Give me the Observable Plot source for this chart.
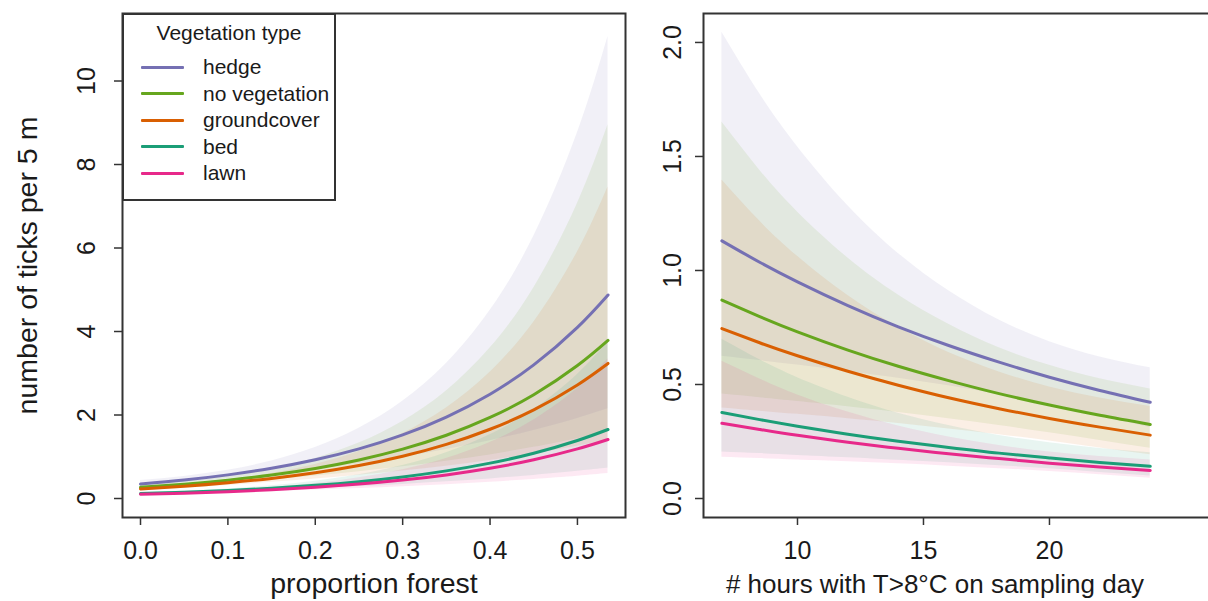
<!DOCTYPE html>
<html>
<head>
<meta charset="utf-8">
<script src="https://cdn.jsdelivr.net/npm/d3@7"></script>
<script src="https://cdn.jsdelivr.net/npm/@observablehq/plot@0.6"></script>
<style>
  html, body { margin: 0; padding: 0; background: #fff; overflow: hidden; }
  #wrap { position: relative; width: 1208px; height: 601px; overflow: hidden; font-family: "Liberation Sans", Arial, sans-serif; color: #1a1a1a; }
  #left { position: absolute; left: 0; top: 0; width: 640px; height: 601px; }
  #right { position: absolute; left: 640px; top: 0; width: 568px; height: 601px; overflow: hidden; }
  #legend { position: absolute; left: 122px; top: 13px; width: 214px; height: 188px; box-sizing: border-box; border: 2px solid #333; background: #fff; }
  #legend .title { position: absolute; left: 0; width: 100%; top: 17px; text-align: center; font-size: 21px; line-height: 1; transform: translateY(-50%); }
  #legend .row { position: absolute; left: 0; width: 100%; height: 0; }
  #legend .sw { position: absolute; left: 17px; width: 43px; height: 3px; top: -1.5px; border-radius: 1px; }
  #legend .lab { position: absolute; left: 79px; top: 0; font-size: 21px; line-height: 1; transform: translateY(-52%); white-space: nowrap; }
</style>
</head>
<body>
<div id="wrap">
  <div id="left"></div>
  <div id="right"></div>
  <div id="legend"></div>
</div>
<script>
// ---------- categories & colours ----------
const types = ["hedge", "no vegetation", "groundcover", "bed", "lawn"];
const colors = ["#7570B3", "#66A61E", "#D95F02", "#1B9E77", "#E7298A"];

// ---------- left panel: proportion forest ----------
const forestX = [0, 0.05, 0.1, 0.15, 0.2, 0.25, 0.3, 0.35, 0.4, 0.45, 0.5, 0.535];
const hedgeForest   = [0.345, 0.442, 0.566, 0.725, 0.928, 1.189, 1.523, 1.951, 2.499, 3.200, 4.099, 4.875];
const hedgeForestLo = [0.276, 0.369, 0.474, 0.586, 0.706, 0.841, 0.996, 1.176, 1.386, 1.631, 1.918, 2.148];
const hedgeForestHi = [0.431, 0.530, 0.675, 0.897, 1.220, 1.680, 2.328, 3.236, 4.505, 6.279, 8.760, 11.064];
const novegForest   = [0.268, 0.343, 0.440, 0.563, 0.721, 0.924, 1.183, 1.515, 1.941, 2.486, 3.184, 3.787];
const novegForestLo = [0.212, 0.284, 0.366, 0.450, 0.541, 0.643, 0.758, 0.891, 1.045, 1.225, 1.434, 1.602];
const novegForestHi = [0.339, 0.415, 0.530, 0.704, 0.961, 1.329, 1.847, 2.577, 3.604, 5.045, 7.068, 8.954];
const groundForest   = [0.229, 0.293, 0.376, 0.481, 0.616, 0.789, 1.011, 1.295, 1.659, 2.124, 2.721, 3.235];
const groundForestLo = [0.182, 0.244, 0.314, 0.387, 0.466, 0.555, 0.656, 0.773, 0.909, 1.068, 1.254, 1.402];
const groundForestHi = [0.288, 0.352, 0.450, 0.597, 0.814, 1.123, 1.559, 2.170, 3.026, 4.224, 5.904, 7.464];
const bedForest   = [0.117, 0.150, 0.192, 0.246, 0.315, 0.403, 0.517, 0.662, 0.847, 1.085, 1.390, 1.653];
const bedForestLo = [0.094, 0.125, 0.161, 0.199, 0.240, 0.285, 0.338, 0.399, 0.470, 0.553, 0.650, 0.728];
const bedForestHi = [0.146, 0.180, 0.229, 0.304, 0.414, 0.569, 0.790, 1.098, 1.527, 2.129, 2.971, 3.752];
const lawnForest   = [0.100, 0.128, 0.164, 0.210, 0.269, 0.345, 0.442, 0.565, 0.724, 0.928, 1.188, 1.413];
const lawnForestLo = [0.079, 0.106, 0.136, 0.168, 0.202, 0.240, 0.283, 0.332, 0.390, 0.457, 0.535, 0.598];
const lawnForestHi = [0.126, 0.155, 0.197, 0.263, 0.358, 0.496, 0.690, 0.961, 1.344, 1.883, 2.637, 3.341];
const forestTicksX = [0, 0.1, 0.2, 0.3, 0.4, 0.5];
const forestTicksY = [0, 2, 4, 6, 8, 10];

// ---------- right panel: hours with T > 8 °C ----------
const hoursX = [7, 8.5, 10, 12, 14, 16, 18, 20, 22, 24];
const hedgeHours   = [1.130, 1.036, 0.950, 0.846, 0.753, 0.671, 0.598, 0.532, 0.474, 0.422];
const hedgeHoursLo = [0.624, 0.605, 0.585, 0.557, 0.527, 0.494, 0.456, 0.411, 0.362, 0.311];
const hedgeHoursHi = [2.045, 1.775, 1.543, 1.284, 1.075, 0.911, 0.783, 0.688, 0.621, 0.573];
const novegHours   = [0.870, 0.798, 0.731, 0.651, 0.580, 0.517, 0.460, 0.410, 0.365, 0.325];
const novegHoursLo = [0.458, 0.442, 0.425, 0.402, 0.377, 0.350, 0.320, 0.288, 0.254, 0.220];
const novegHoursHi = [1.651, 1.440, 1.257, 1.055, 0.893, 0.764, 0.661, 0.584, 0.525, 0.480];
const groundHours   = [0.745, 0.683, 0.626, 0.558, 0.497, 0.442, 0.394, 0.351, 0.313, 0.278];
const groundHoursLo = [0.397, 0.383, 0.369, 0.350, 0.329, 0.305, 0.280, 0.252, 0.222, 0.192];
const groundHoursHi = [1.397, 1.217, 1.062, 0.890, 0.751, 0.640, 0.555, 0.489, 0.441, 0.403];
const bedHours   = [0.377, 0.346, 0.317, 0.282, 0.251, 0.224, 0.199, 0.178, 0.158, 0.141];
const bedHoursLo = [0.204, 0.197, 0.189, 0.179, 0.168, 0.157, 0.144, 0.130, 0.114, 0.099];
const bedHoursHi = [0.698, 0.608, 0.530, 0.444, 0.374, 0.320, 0.276, 0.244, 0.219, 0.201];
const lawnHours   = [0.330, 0.303, 0.277, 0.247, 0.220, 0.196, 0.175, 0.155, 0.138, 0.123];
const lawnHoursLo = [0.181, 0.175, 0.169, 0.161, 0.152, 0.142, 0.131, 0.118, 0.104, 0.089];
const lawnHoursHi = [0.602, 0.524, 0.454, 0.379, 0.318, 0.270, 0.233, 0.204, 0.184, 0.169];
const hoursTicksX = [10, 15, 20];
const hoursTicksY = [0, 0.5, 1, 1.5, 2];

// ---------- labels ----------
const xLabelLeft = "proportion forest";
const yLabelLeft = "number of ticks per 5 m";
const xLabelRight = "# hours with T>8°C on sampling day";
const legendTitle = "Vegetation type";

// ---------- tidy tables ----------
function tidy(xs, series) {
  const rows = [];
  series.forEach(([type, m, lo, hi]) => {
    xs.forEach((x, i) => rows.push({type, x, mean: m[i], lo: lo[i], hi: hi[i]}));
  });
  return rows;
}
const forestData = tidy(forestX, [
  ["hedge", hedgeForest, hedgeForestLo, hedgeForestHi],
  ["no vegetation", novegForest, novegForestLo, novegForestHi],
  ["groundcover", groundForest, groundForestLo, groundForestHi],
  ["bed", bedForest, bedForestLo, bedForestHi],
  ["lawn", lawnForest, lawnForestLo, lawnForestHi]
]);
const hoursData = tidy(hoursX, [
  ["hedge", hedgeHours, hedgeHoursLo, hedgeHoursHi],
  ["no vegetation", novegHours, novegHoursLo, novegHoursHi],
  ["groundcover", groundHours, groundHoursLo, groundHoursHi],
  ["bed", bedHours, bedHoursLo, bedHoursHi],
  ["lawn", lawnHours, lawnHoursLo, lawnHoursHi]
]);

const FONT = "Liberation Sans, Arial, Helvetica, sans-serif";
const INK = "#1a1a1a";
const FRAME = "#333";

function commonMarks(data) {
  return [
    Plot.areaY(data, {x: "x", y1: "lo", y2: "hi", fill: "type", fillOpacity: 0.1, curve: "natural"}),
    Plot.lineY(data, {x: "x", y: "mean", stroke: "type", strokeWidth: 3, curve: "natural"}),
    Plot.frame({stroke: FRAME, strokeWidth: 2})
  ];
}

const left = Plot.plot({
  width: 640, height: 601,
  marginLeft: 122, marginRight: 15, marginTop: 13, marginBottom: 84,
  style: {fontFamily: FONT, fontSize: "25px", color: INK, background: "transparent", overflow: "visible"},
  x: {domain: [-0.0206, 0.555]},
  y: {domain: [-0.455, 11.617]},
  color: {domain: types, range: colors},
  marks: [
    ...commonMarks(forestData),
    Plot.axisX({ticks: forestTicksX, tickFormat: d3.format(".1f"), tickSize: 8, tickPadding: 16, stroke: FRAME, strokeWidth: 1.5, label: null, fontSize: 25, fill: INK}),
    Plot.axisY({ticks: forestTicksY, tickFormat: d3.format("d"), tickSize: 8, tickPadding: 20, tickRotate: -90, stroke: FRAME, strokeWidth: 1.5, label: null, fontSize: 25, fill: INK}),
    Plot.text([xLabelLeft], {frameAnchor: "bottom", dy: 75, fontSize: 28.5, fill: INK}),
    Plot.text([yLabelLeft], {frameAnchor: "left", textAnchor: "middle", dx: -95, rotate: -90, fontSize: 28.5, fill: INK})
  ]
});
document.getElementById("left").appendChild(left);

const right = Plot.plot({
  width: 568, height: 601,
  marginLeft: 63, marginRight: -4, marginTop: 13, marginBottom: 84,
  style: {fontFamily: FONT, fontSize: "25px", color: INK, background: "transparent", overflow: "hidden"},
  x: {domain: [6.27, 26.47]},
  y: {domain: [-0.0833, 2.127]},
  color: {domain: types, range: colors},
  marks: [
    ...commonMarks(hoursData),
    Plot.axisX({ticks: hoursTicksX, tickFormat: d3.format("d"), tickSize: 8, tickPadding: 16, stroke: FRAME, strokeWidth: 1.5, label: null, fontSize: 25, fill: INK}),
    Plot.axisY({ticks: hoursTicksY, tickFormat: d3.format(".1f"), tickSize: 8, tickPadding: 15, tickRotate: -90, stroke: FRAME, strokeWidth: 1.5, label: null, fontSize: 25, fill: INK}),
    Plot.text([xLabelRight], {frameAnchor: "bottom", dy: 75, dx: -23, fontSize: 26, fill: INK})
  ]
});
document.getElementById("right").appendChild(right);

// ---------- legend (HTML overlay) ----------
const leg = document.getElementById("legend");
const t = document.createElement("div");
t.className = "title"; t.textContent = legendTitle; leg.appendChild(t);
types.forEach((name, i) => {
  const row = document.createElement("div");
  row.className = "row";
  row.style.top = (52 + i * 26.6) + "px";
  const sw = document.createElement("div");
  sw.className = "sw"; sw.style.background = colors[i];
  const lab = document.createElement("div");
  lab.className = "lab"; lab.textContent = name;
  row.appendChild(sw); row.appendChild(lab);
  leg.appendChild(row);
});
</script>
</body>
</html>
